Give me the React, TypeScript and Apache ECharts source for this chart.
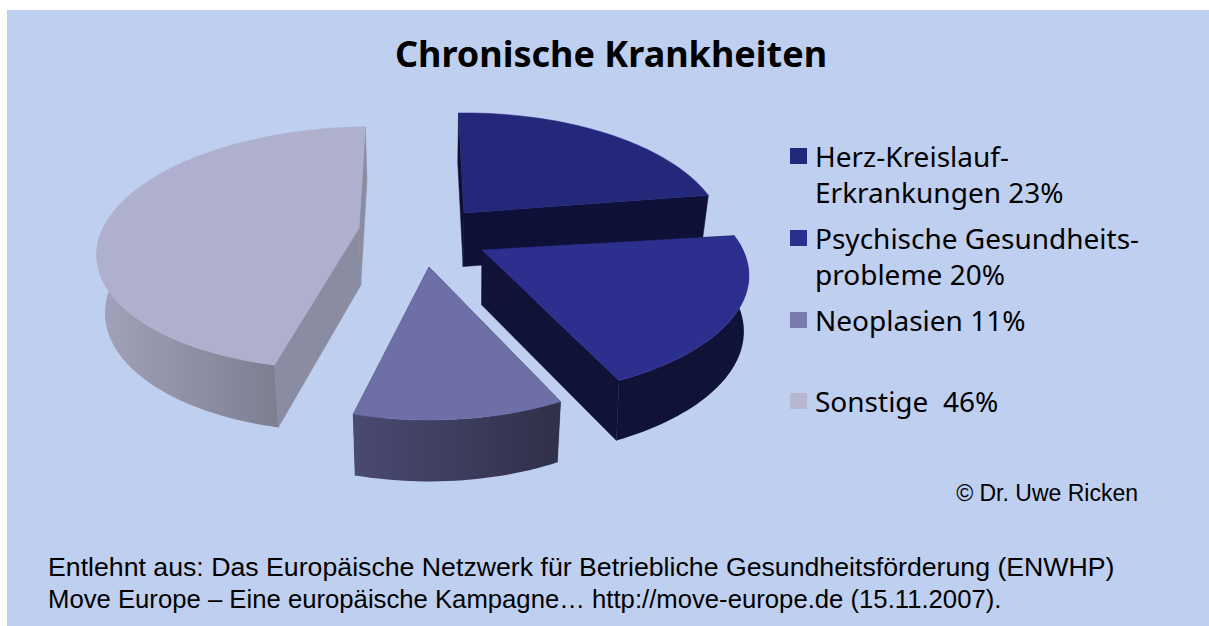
import React, { useEffect, useRef } from "react";
import * as echarts from "echarts";

// ---- data
const categories = ["Herz-Kreislauf-Erkrankungen", "Psychische Gesundheitsprobleme", "Neoplasien", "Sonstige"];
const shares = [23, 20, 11, 46];
const legendLines = [
  "\nHerz-Kreislauf-\nErkrankungen 23%",
  "\nPsychische Gesundheits-\nprobleme 20%",
  "Neoplasien 11%",
  "Sonstige  46%",
];
const titleText = "Chronische Krankheiten";
const creditText = "\u00A9 Dr. Uwe Ricken";
const sourceLines = [
  "Entlehnt aus: Das Europ\u00E4ische Netzwerk f\u00FCr Betriebliche Gesundheitsf\u00F6rderung (ENWHP)",
  "Move Europe \u2013 Eine europ\u00E4ische Kampagne\u2026 http://move-europe.de (15.11.2007).",
];

// ---- layout and style
const sourceSizes = [26.7, 25.7];
const topColors = ["#24287A", "#2D2F8E", "#6F6FA8", "#AFB0CE"];
const legendColors = ["#24287A", "#2D2F8E", "#7A7AAE", "#B7B8D0"];
const cutColors = ["#0F1037", "#101238", "#3C3C60", "#8A8DA2"];
const wallFrom = ["#0F1037", "#101238", "#4A4A72", "#A2A3BA"];
const wallTo = ["#0F1037", "#101238", "#30304A", "#7D7E90"];
const legendTops = [102, 184, 302, 383];
const projection = [
  { cx: 464, cy: 213, a: 255, b: 121, k: 0.209, shear: 0, turn: 0, extra: 0, vx: 430, sx: 0.975 },
  { cx: 482, cy: 250, a: 261, b: 117, k: 0.209, shear: 0, turn: 1.5, extra: 0, vx: 470, sx: 0.982 },
  { cx: 429, cy: 267, a: 248, b: 121, k: 0.209, shear: 0, turn: 1.2, extra: 0, vx: 430, sx: 0.975 },
  { cx: 359, cy: 228, a: 256, b: 118, k: 0.165, shear: -0.12, turn: 0, extra: 3, vx: 430, sx: 0.975 },
];
const START_ANGLE = -1.5;
const total = shares.reduce((s, v) => s + v, 0);

type P = [number, number];
const project = (i: number, deg: number): P => {
  const c = projection[i];
  const t = (deg * Math.PI) / 180;
  const u = Math.sin(t);
  const v = -Math.cos(t);
  const w = 1 - c.k * v;
  const dx = (c.a * u) / w;
  const dy = (c.b * v) / w;
  return [c.cx + dx + c.shear * dy, c.cy + dy];
};
const lowerOf = (i: number) => (p: P): P => [
  projection[i].vx + (p[0] - projection[i].vx) * projection[i].sx,
  p[1] + 55 + projection[i].extra + (p[1] - 250) * 0.038,
];

const renderSlice = (params: any, api: any) => {
  const i = params.seriesIndex;
  const lower = lowerOf(i);
  const before = shares.slice(0, i).reduce((s, v) => s + v, 0);
  const from = START_ANGLE + projection[i].turn + (before / total) * 360;
  const to = from + (api.value(0) / total) * 360;
  const apex: P = [projection[i].cx, projection[i].cy];
  const arc: P[] = [];
  const frontArc: P[] = [];
  const steps = Math.ceil((to - from) / 1.5);
  for (let s = 0; s <= steps; s++) {
    const deg = from + ((to - from) * s) / steps;
    const p = project(i, deg);
    arc.push(p);
    if (-Math.cos((deg * Math.PI) / 180) > -0.1) frontArc.push(p);
  }
  const poly = (points: P[], fill: any) => ({
    type: "polygon",
    shape: { points },
    style: { fill, stroke: typeof fill === "string" ? fill : undefined, lineWidth: 0.5 },
    silent: true,
  });
  const children: any[] = [];
  const first = arc[0];
  const last = arc[arc.length - 1];
  const cuts = [
    [first, apex],
    [apex, last],
  ].map(([p, q]) => ({ points: [p, q, lower(q), lower(p)] as P[], y: (p[1] + q[1]) / 2 }));
  cuts.sort((m, n) => m.y - n.y);
  cuts.forEach((c) => children.push(poly(c.points, cutColors[i])));
  if (frontArc.length > 1) {
    const wall = [...frontArc, ...frontArc.slice().reverse().map(lower)];
    children.push(
      poly(
        wall,
        new echarts.graphic.LinearGradient(0, 0, 1, 0, [
          { offset: 0, color: wallFrom[i] },
          { offset: 1, color: wallTo[i] },
        ]),
      ),
    );
  }
  children.push(poly([apex, ...arc], topColors[i]));
  return { type: "group", children };
};

export default function App() {
  const ref = useRef<HTMLDivElement>(null);
  useEffect(() => {
    const chart = echarts.init(ref.current!, null, { renderer: "svg" });
    chart.setOption({
      animation: false,
      backgroundColor: "#FFFFFF",
      title: {
        text: titleText,
        left: 606,
        top: 30,
        textAlign: "center",
        textStyle: { fontFamily: "Noto Sans", fontSize: 36, fontWeight: "bold", color: "#000000" },
      },
      legend: categories.map((name, i) => ({
        show: true,
        left: 790,
        top: legendTops[i],
        orient: "vertical",
        selectedMode: false,
        padding: 0,
        itemWidth: 17,
        itemHeight: 16,
        data: [{ name, icon: "rect", itemStyle: { color: legendColors[i] } }],
        formatter: () => legendLines[i],
        textStyle: {
          fontFamily: "Noto Sans",
          fontSize: 28,
          lineHeight: 36,
          color: "#000000",
          padding: [0, 0, 0, 3],
        },
      })),
      graphic: [
        { type: "rect", z: -1, shape: { x: 7, y: 10, width: 1202, height: 616 }, style: { fill: "#BFCFF0" }, silent: true },
        {
          type: "text", x: 1138, y: 493, silent: true,
          style: { text: creditText, align: "right", verticalAlign: "middle", fontFamily: "Liberation Sans", fontSize: 23, fill: "#000000" },
        },
        ...sourceLines.map((text, i) => ({
          type: "text", x: 48, y: 567 + i * 32, silent: true,
          style: { text, align: "left", verticalAlign: "middle", fontFamily: "Liberation Sans", fontSize: sourceSizes[i], fill: "#000000" },
        })),
      ],
      series: categories.map((name, i) => ({
        type: "custom",
        name,
        coordinateSystem: "none",
        renderItem: renderSlice,
        data: [shares[i]],
        itemStyle: { color: legendColors[i] },
        silent: true,
      })),
    });
    return () => chart.dispose();
  }, []);
  return <div ref={ref} style={{ position: "fixed", left: 0, top: 0, width: 1209, height: 626 }} />;
}
